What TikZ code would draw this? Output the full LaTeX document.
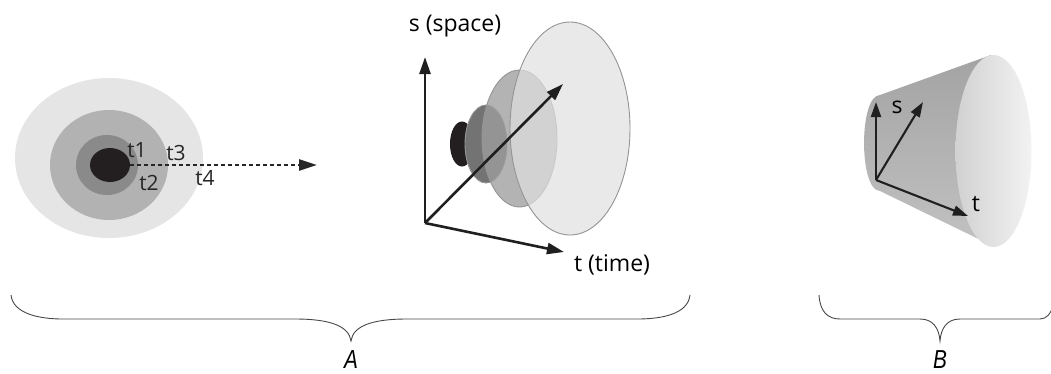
\documentclass[tikz,border=0pt]{standalone}
\usepackage{fontspec}
\setmainfont{Open Sans}
\newfontfamily\bracefont{Liberation Sans}[FakeStretch=0.8]
\usetikzlibrary{arrows.meta}
\definecolor{pulse}{HTML}{231F20}
\tikzset{
  axis/.style={line width=2.6pt,black!88,-{Triangle[length=17pt,width=11pt]}},
  small axis/.style={line width=2.1pt,black!88,-{Triangle[length=15pt,width=10pt]}},
  dots/.style={line width=2.5pt,black!85,dash pattern=on 4pt off 3pt,-{Triangle[length=18pt,width=11pt]}},
  blob/.style={draw=black!42,line width=0.9pt},
  tlab/.style={font=\fontsize{21}{24}\selectfont,inner sep=0pt,text=black!85},
  brace/.style={black!72,line width=0.9pt},
  part/.style={font=\fontsize{26}{29}\selectfont\bracefont\itshape,inner sep=0pt},
}
\begin{document}
\begin{tikzpicture}[x=1pt,y=-1pt,font=\fontsize{23}{26}\selectfont]
  \useasboundingbox (0,0) rectangle (1051,373);

  % A, front view: rings of the pulse
  \foreach \cx/\cy/\rx/\ry/\c in {109/158/94/80/black!10,109/165/59/55/black!30,
      107/165/31/30/black!46,110/165/20/17/pulse}{
    \fill[\c] (\cx,\cy) ellipse ({\rx} and {\ry});}
  \foreach \n/\x/\y in {1/137/150,2/149/183,3/176/153,4/205/178}{
    \node[tlab] (t\n) at (\x,\y) {t\n};}
  \coordinate (front) at (130,165);
  \coordinate (ahead) at (317,165);
  \draw[dots] (front) -- (ahead);

  % A, same pulse along time
  \fill[pulse] (462,144) ellipse (12 and 22.5);
  \draw[blob,fill=black!55] (486,144) ellipse (21 and 39);
  \draw[blob,fill=black!38,fill opacity=.78] (519.5,138.5) ellipse (37.5 and 68.5);
  \draw[blob,fill=black!12,fill opacity=.7] (570,128.5) ellipse (60 and 106.5);
  \coordinate (O) at (425,223);
  \coordinate (sTop) at (425,57);
  \coordinate (tEnd) at (564,252);
  \coordinate (dEnd) at (563,84);
  \draw[axis] (O) -- (sTop);
  \draw[axis] (O) -- (tEnd);
  \draw[axis] (O) -- (dEnd);
  \node (space) at (455,26) {s (space)};
  \node (time) at (612,265) {t (time)};

  % B: the cone
  \shade[top color=black!36,bottom color=black!24]
    (880,95) -- (991,55) -- (995,247) -- (880,191)
    .. controls (858.7,191) and (858.7,95) .. (880,95) -- cycle;
  \shade[left color=black!18,right color=black!5] (993.5,151) ellipse (38 and 96);
  \coordinate (c0) at (876,180);
  \coordinate (cs) at (876,102);
  \coordinate (cd) at (923,102);
  \coordinate (ct) at (968,216);
  \draw[small axis] (c0) -- (cs);
  \draw[small axis] (c0) -- (cd);
  \draw[small axis] (c0) -- (ct);
  \node[inner sep=0pt] (sB) at (897,107) {s};
  \node[inner sep=0pt] (tB) at (976,204) {t};

  % braces
  \draw[brace] (11,295) .. controls (13,314) and (40,319) .. (63,319) -- (295,319)
    .. controls (330,319) and (349,326) .. (351,341)
    .. controls (353,326) and (372,319) .. (407,319) -- (637,319)
    .. controls (662,319) and (688,314) .. (690,295);
  \draw[brace] (819,295) .. controls (820,312) and (828,319) .. (840,319) -- (920,319)
    .. controls (933,319) and (939,328) .. (940,341)
    .. controls (941,328) and (947,319) .. (960,319) -- (1040,319)
    .. controls (1047,319) and (1051,313) .. (1053,306);
  \node[part] (A) at (351,360) {A};
  \node[part] (B) at (940,360) {B};
\end{tikzpicture}
\end{document}
